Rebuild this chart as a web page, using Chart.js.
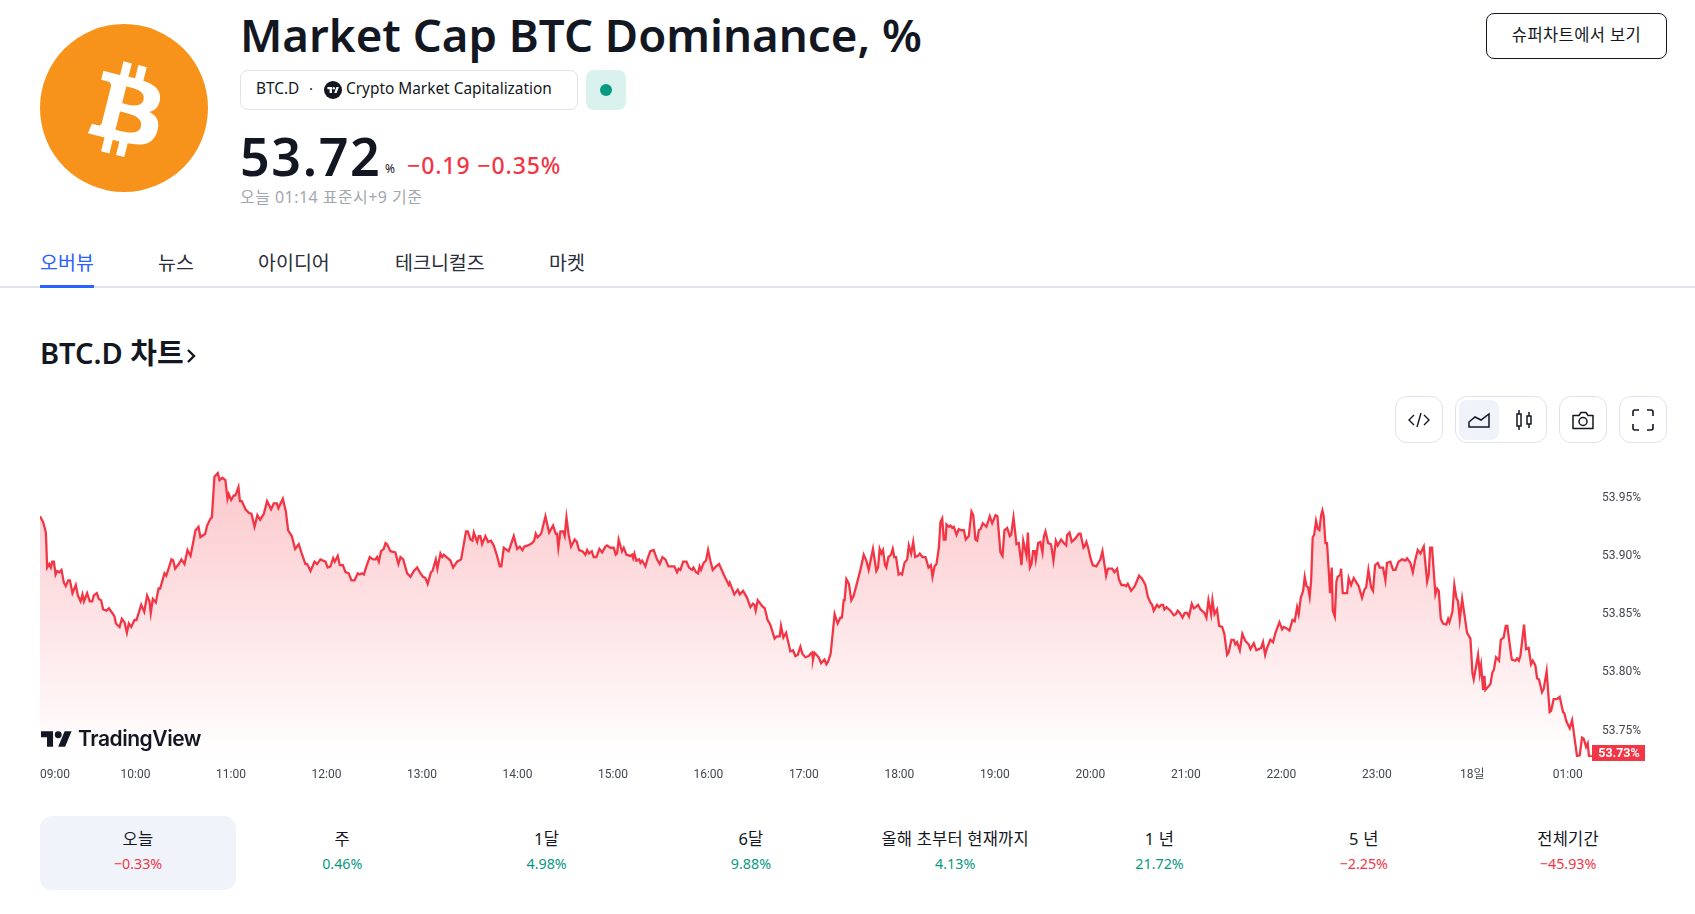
<!DOCTYPE html>
<html lang="ko">
<head>
  <meta charset="UTF-8" />
  <title>BTC.D</title>
  <script src="https://cdn.jsdelivr.net/npm/chart.js"></script>
  <style>
    html, body { margin: 0; padding: 0; background: #fff; }
    body { width: 1695px; height: 914px; position: relative; overflow: hidden; color: #131722;
      font-family: "Noto Sans", "Noto Sans CJK KR", sans-serif; }
    .abs { position: absolute; white-space: nowrap; }
    .tab { top: 250px; font-size: 19.5px; line-height: 26px; color: #2a2e39; }
    .tool { top: 396px; height: 45px; border: 1px solid #e0e3eb; border-radius: 12px; box-sizing: content-box; }
    .tool svg { position: absolute; }
    .period { top: 827px; width: 204px; text-align: center; font-size: 16.5px; line-height: 24px; letter-spacing: 0.2px; }
    .period b { display: block; font-weight: 400; font-size: 14.3px; line-height: 24px; margin-top: 1px; letter-spacing: 0; }
    .up { color: #089981; }
    .down { color: #f23645; }
    #chartBox { position: absolute; left: 0; top: 440px; width: 1695px; height: 360px; }
  </style>
</head>
<body>
  <svg class="abs" style="left:40px;top:24px" width="168" height="168" viewBox="0 0 64 64">
    <circle cx="32" cy="32" r="32" fill="#f7931a"/>
    <path fill="#fff" transform="translate(33 33) scale(.9) translate(-32 -32)" d="M46.11 27.441c.636-4.258-2.606-6.547-7.039-8.074l1.438-5.768-3.512-.875-1.4 5.616c-.922-.23-1.87-.447-2.812-.662l1.41-5.653-3.509-.875-1.439 5.766c-.764-.174-1.514-.346-2.242-.527l.004-.018-4.842-1.209-.934 3.75s2.605.597 2.55.634c1.422.355 1.68 1.296 1.636 2.042l-1.638 6.571c.098.025.225.061.365.117l-.37-.092-2.297 9.205c-.174.432-.615 1.08-1.609.834.035.051-2.552-.637-2.552-.637l-1.743 4.02 4.57 1.139c.85.213 1.683.436 2.502.646l-1.453 5.835 3.507.875 1.44-5.772c.957.26 1.887.5 2.797.726L27.504 50.8l3.511.875 1.453-5.823c5.987 1.133 10.49.676 12.383-4.738 1.527-4.36-.075-6.875-3.225-8.516 2.294-.531 4.022-2.04 4.483-5.157zM38.087 38.69c-1.086 4.36-8.426 2.004-10.807 1.412l1.928-7.729c2.38.594 10.011 1.77 8.88 6.317zm1.085-11.312c-.99 3.966-7.1 1.951-9.083 1.457l1.748-7.01c1.983.494 8.367 1.416 7.335 5.553z"/>
  </svg>

  <div class="abs" style="left:240px;top:2px;font-size:45.6px;line-height:64px;font-weight:600">Market Cap BTC Dominance, %</div>

  <div class="abs" style="left:240px;top:70px;width:338px;height:40px;border:1px solid #e0e3eb;border-radius:8px;box-sizing:border-box"></div>
  <div class="abs" style="left:256px;top:77px;font-size:15.4px;line-height:24px">BTC.D</div>
  <div class="abs" style="left:309px;top:76px;font-size:15px;line-height:24px">·</div>
  <svg class="abs" style="left:324px;top:81px" width="18" height="18" viewBox="0 0 18 18">
    <circle cx="9" cy="9" r="9" fill="#131722"/>
    <path fill="#fff" d="M8 12H5.6V8.2H3.4V6H8zM12.6 12h-2.4l2.2-6h2.4z"/><circle cx="9.8" cy="7.2" r="1.2" fill="#fff"/>
  </svg>
  <div class="abs" style="left:346px;top:77px;font-size:15.4px;line-height:24px">Crypto Market Capitalization</div>
  <div class="abs" style="left:586px;top:70px;width:40px;height:40px;border-radius:8px;background:#daf2ee"></div>
  <div class="abs" style="left:600px;top:84px;width:12px;height:12px;border-radius:50%;background:#089981"></div>

  <div class="abs" style="left:240px;top:120px;font-size:52px;line-height:72px;font-weight:600;letter-spacing:1.6px">53.72</div>
  <div class="abs" style="left:385px;top:160px;font-size:12px;line-height:18px">%</div>
  <div class="abs down" style="left:407px;top:148px;font-size:23px;line-height:34px;font-weight:500;letter-spacing:0.9px">−0.19 −0.35%</div>
  <div class="abs" style="left:240px;top:185px;font-size:16px;line-height:24px;letter-spacing:0.45px;color:#a3a6af">오늘 01:14 표준시+9 기준</div>

  <div class="abs tab" style="left:40px;color:#2962ff">오버뷰</div>
  <div class="abs tab" style="left:158px">뉴스</div>
  <div class="abs tab" style="left:258px">아이디어</div>
  <div class="abs tab" style="left:395px">테크니컬즈</div>
  <div class="abs tab" style="left:549px">마켓</div>
  <div class="abs" style="left:0;top:286px;width:1695px;height:2px;background:#e0e3eb"></div>
  <div class="abs" style="left:40px;top:285px;width:54px;height:3px;background:#2962ff"></div>

  <div class="abs" style="left:40px;top:333px;font-size:29px;line-height:40px;font-weight:600">BTC.D 차트</div>
  <svg class="abs" style="left:185px;top:348px" width="12" height="16" viewBox="0 0 12 16"><path d="M3 2l6 6-6 6" fill="none" stroke="#131722" stroke-width="2.4"/></svg>

  <div class="abs" style="left:1486px;top:13px;width:181px;height:46px;border:1px solid #131722;border-radius:8px;box-sizing:border-box;text-align:center;font-size:16.5px;line-height:41px;letter-spacing:0.4px">슈퍼차트에서 보기</div>

  <div class="abs tool" style="left:1395px;width:46px">
    <svg style="left:9px;top:9px" width="28" height="28" viewBox="0 0 28 28" fill="none" stroke="#131722" stroke-width="1.4"><path d="M9 9l-5 5 5 5M19 9l5 5-5 5M16 7l-4 14"/></svg>
  </div>
  <div class="abs tool" style="left:1455px;width:90px">
    <div class="abs" style="left:3px;top:3px;width:40px;height:40px;border-radius:8px;background:#f0f3fa"></div>
    <svg style="left:9px;top:9px" width="28" height="28" viewBox="0 0 28 28" fill="none" stroke="#131722" stroke-width="1.5"><path d="M4 21v-5l6-5 6 3 8-6v13z"/></svg>
    <svg style="left:54px;top:9px" width="28" height="28" viewBox="0 0 28 28" fill="none" stroke="#131722" stroke-width="1.5"><path d="M7 8h4v12H7zM9 4v4M9 20v4M17 10h4v8h-4zM19 6v4M19 18v4"/></svg>
  </div>
  <div class="abs tool" style="left:1559px;width:46px">
    <svg style="left:9px;top:9px" width="28" height="28" viewBox="0 0 28 28" fill="none" stroke="#131722" stroke-width="1.5"><path d="M4 9.5h6l2-3h5l2 3h5v13H4z" stroke-linejoin="round"/><circle cx="14" cy="15.5" r="4"/></svg>
  </div>
  <div class="abs tool" style="left:1619px;width:46px">
    <svg style="left:9px;top:9px" width="28" height="28" viewBox="0 0 28 28" fill="none" stroke="#131722" stroke-width="1.6"><path d="M4 10V6a2 2 0 0 1 2-2h4M18 4h4a2 2 0 0 1 2 2v4M24 18v4a2 2 0 0 1-2 2h-4M10 24H6a2 2 0 0 1-2-2v-4"/></svg>
  </div>

  <div id="chartBox"><canvas id="dominanceChart"></canvas></div>

  <svg class="abs" style="left:41px;top:731px" width="31" height="16" viewBox="0 4 36 18"><path fill="#131722" d="M14 22H7V11H0V4h14v18zM28 22h-8l7.5-18h8L28 22z"/><circle cx="20" cy="8" r="4" fill="#131722"/></svg>
  <div class="abs" style="left:78px;top:724px;font-family:Inter,sans-serif;font-size:21px;line-height:30px;font-weight:600;letter-spacing:-0.45px">TradingView</div>

  <div class="abs" style="left:40px;top:816px;width:196px;height:74px;border-radius:12px;background:#f0f3fa"></div>
  <div id="periods"></div>

  <script>
    // time axis: minutes after 09:00
    const tickMinutes = [0, 60, 120, 180, 240, 300, 360, 420, 480, 540, 600, 660, 720, 780, 840, 900, 960];
    const tickLabels = ['09:00', '10:00', '11:00', '12:00', '13:00', '14:00', '15:00', '16:00', '17:00', '18:00', '19:00', '20:00', '21:00', '22:00', '23:00', '18일', '01:00'];
    const priceTicks = [53.75, 53.80, 53.85, 53.90, 53.95];
    const lastPrice = 53.73;

    const periodNames = ['오늘', '주', '1달', '6달', '올해 초부터 현재까지', '1 년', '5 년', '전체기간'];
    const periodChanges = [-0.33, 0.46, 4.98, 9.88, 4.13, 21.72, -2.25, -45.93];

    const minutes = [
      0, 2, 3.7, 4.5, 5.8, 6.8, 7.7, 8.7, 9.8, 10.8,
      12.1, 13.5, 15, 16.2, 17.7, 18.8, 20.4, 22.5, 23.8, 25.5,
      26.7, 27.6, 29.6, 31.3, 32.8, 33.8, 35.7, 37, 38.4, 39.7,
      41.8, 43.3, 45.4, 46.8, 47.7, 50, 51.4, 53.1, 54.6, 55.8,
      57.3, 59.4, 60.6, 63.6, 65.5, 67.3, 68.8, 69.6, 70.9, 72.8,
      74.5, 75.5, 78.2, 79.3, 81, 82.6, 83.7, 84.9, 87.2, 88.9,
      90.8, 92.7, 94.6, 97.7, 99.6, 100.8, 103.8, 105, 107.1, 108,
      109.6, 111.7, 112.8, 114.5, 116.5, 117.8, 118.6, 120.1, 121.8, 122.8,
      124.7, 125.6, 126.8, 129.1, 131.2, 132.9, 134.8, 136.6, 138.3, 140.6,
      142.7, 145.2, 146.9, 148.8, 149.8, 152.6, 154.5, 155.9, 158.2, 160.3,
      162.6, 164.7, 166.8, 167.9, 170, 172.5, 174.1, 176.2, 179.4, 180.8,
      182.5, 184.2, 185.2, 187.1, 188.4, 190.3, 192, 194, 195.7, 197.6,
      199.7, 200.9, 202.2, 203.5, 205.1, 207.2, 209.3, 210.8, 211.8, 212.9,
      214.3, 216, 217.1, 218.1, 220.2, 223.3, 225.2, 226.5, 228.2, 230.7,
      232.8, 234.9, 237, 238.6, 240.7, 242.2, 243.6, 245.7, 246.6, 248.7,
      249.7, 251.6, 252.7, 253.7, 257.9, 259.6, 262.1, 264.6, 267.7, 268.8,
      270.5, 271.7, 272.6, 274.7, 275.7, 276.7, 277.8, 279.9, 281.6, 283.4,
      285.1, 287.2, 288.9, 289.9, 291.4, 294.5, 297.7, 299.8, 301.5, 303.1,
      304.4, 306.7, 309.2, 310.5, 311.5, 312.6, 314.9, 317.6, 319.9, 322.4,
      324.1, 324.9, 325.7, 327, 328.7, 329.7, 330.8, 332.2, 333.7, 336,
      337.3, 338.7, 340.8, 342.7, 343.8, 345, 346.7, 347.9, 349.6, 351.5,
      353.2, 355.3, 356.3, 358.4, 360.5, 361.8, 362.6, 363.6, 365.7, 366.8,
      368.5, 371, 372, 372.7, 373.5, 374.7, 376.4, 377.3, 378.3, 380.4,
      381.9, 383.5, 385.6, 387.7, 389.4, 391.1, 393, 394.8, 397.2, 398.6,
      400.3, 401.3, 402.4, 404.1, 406.2, 407.8, 409.7, 410.6, 412.2, 413.5,
      414.5, 415.4, 417, 418.5, 419.8, 421.2, 422.7, 424.8, 426.7, 429.6,
      432.8, 433.4, 436.3, 438.4, 439.7, 441.8, 444.3, 446.4, 448, 448.9,
      449.7, 451, 453.7, 455.4, 457.2, 458.9, 461.6, 463.1, 464.8, 465.6,
      467.1, 468.8, 471.5, 473.2, 474.6, 476.1, 477.8, 479, 480.9, 483,
      484.1, 485.1, 485.7, 486.6, 489.3, 490.8, 492.9, 494.1, 495.1, 496.8,
      499.3, 501.2, 502.9, 503.9, 505, 505.6, 506.7, 508.3, 509.8, 511.3,
      513.8, 515.5, 517.6, 519.2, 520.7, 523.4, 525.5, 526.6, 527.6, 528.7,
      529.7, 531, 531.8, 533.1, 534.7, 535.8, 536.8, 537.9, 539.5, 540.7,
      541.7, 543.2, 544.9, 545.9, 547.4, 548.7, 549.9, 551.6, 552.8, 554.5,
      556.4, 558.3, 559.8, 560.8, 562.1, 563.3, 564.8, 565.8, 566.9, 567.9,
      569, 569.6, 571.1, 572.1, 573.2, 574.2, 575.9, 577.3, 578.8, 580.5,
      581.7, 583.6, 585.3, 586.4, 587.8, 588.9, 589.9, 591, 592.4, 594.7,
      596.8, 598.3, 600.4, 601.6, 603.5, 604.8, 606, 607.7, 609.4, 610.2,
      611.7, 613.6, 615, 616.7, 617.8, 619.9, 620.7, 622, 623, 624,
      625.1, 625.7, 627.2, 628.6, 629.9, 630.7, 631.8, 633.5, 635.3, 636.8,
      638.3, 639.5, 641.6, 643.3, 644.8, 645.4, 646.9, 648.3, 650.6, 652.7,
      653.8, 655.7, 656.3, 657.5, 658.6, 660.1, 661.5, 663.8, 666.3, 667.6,
      669.9, 671, 673.7, 675.1, 676.8, 677.9, 679.5, 681.4, 682.5, 683.5,
      685.6, 687.9, 690.6, 692.7, 694.6, 696.1, 697.7, 698.8, 699.8, 701.9,
      703.2, 704.5, 705.7, 706.5, 707.8, 710.3, 712.4, 713.7, 714.9, 716.2,
      717.9, 719.3, 720.8, 722, 723.7, 725, 726.2, 727.7, 729.2, 731.7,
      732.9, 734.2, 735.9, 736.7, 738, 739.6, 740.9, 742.8, 744.2, 745.9,
      746.9, 748.6, 750.1, 751.1, 752.2, 753.9, 755.5, 757.4, 759.5, 760.6,
      762.7, 764.3, 765.8, 767.3, 768.5, 769.8, 771, 773.1, 774.8, 776.3,
      778.8, 780.5, 781.5, 783.2, 785.1, 787, 788.4, 789.9, 790.9, 792.2,
      793.7, 794.7, 795.8, 796.8, 797.8, 798.7, 799.7, 800.6, 801.8, 802.9,
      803.9, 805, 805.8, 806.6, 807.7, 808.7, 809.8, 810.6, 811.7, 812.3,
      813.6, 814.6, 815.4, 817.1, 817.5, 818.6, 821.3, 822.3, 823.8, 825.5,
      827.2, 828.6, 830.7, 832.2, 833.3, 834.7, 836.4, 837.6, 838.9, 840.6,
      841.8, 843.9, 845.4, 846.4, 848.5, 850.2, 851.7, 853.6, 855.9, 858,
      859, 861.1, 862.6, 864.2, 865.7, 867.4, 869.5, 871.6, 872.6, 873.5,
      874.7, 876.8, 877.9, 878.9, 880.2, 881.6, 883.7, 884.8, 885.6, 887.5,
      888.7, 890, 891, 892.1, 893.6, 895, 896.7, 898.8, 900.1, 900.9,
      903.6, 904.7, 905.5, 906.8, 907.6, 908.2, 911.4, 912.6, 913.5, 914.9,
      916.8, 917.9, 919.7, 921, 922, 923.3, 924.8, 927.1, 928.1, 929.2,
      930.2, 932.5, 933.8, 935.4, 936.9, 938, 939.6, 940.7, 941.9, 943.8,
      944.9, 946.7, 948.6, 949.5, 951.1, 953.2, 954.9, 957, 957.8, 959.1,
      961.2, 962.7, 965.8, 967.5, 968.9, 970, 971.5, 972.5, 973.3, 975.2
    ];

    const dominance = [
      53.934, 53.929, 53.920, 53.890, 53.893, 53.890, 53.895, 53.895, 53.884, 53.887,
      53.886, 53.888, 53.877, 53.874, 53.879, 53.879, 53.868, 53.875, 53.866, 53.861,
      53.867, 53.861, 53.868, 53.861, 53.861, 53.866, 53.868, 53.863, 53.862, 53.854,
      53.853, 53.855, 53.851, 53.848, 53.842, 53.839, 53.846, 53.843, 53.834, 53.842,
      53.839, 53.845, 53.845, 53.858, 53.852, 53.866, 53.861, 53.851, 53.863, 53.860,
      53.872, 53.872, 53.885, 53.883, 53.890, 53.897, 53.896, 53.889, 53.893, 53.897,
      53.893, 53.905, 53.900, 53.922, 53.925, 53.916, 53.919, 53.926, 53.932, 53.933,
      53.968, 53.971, 53.965, 53.967, 53.965, 53.949, 53.953, 53.948, 53.952, 53.952,
      53.959, 53.947, 53.947, 53.940, 53.937, 53.936, 53.925, 53.935, 53.931, 53.936,
      53.947, 53.940, 53.945, 53.945, 53.941, 53.949, 53.938, 53.922, 53.917, 53.906,
      53.910, 53.901, 53.893, 53.893, 53.887, 53.895, 53.893, 53.897, 53.895, 53.890,
      53.891, 53.898, 53.895, 53.900, 53.892, 53.892, 53.886, 53.885, 53.879, 53.879,
      53.885, 53.884, 53.885, 53.884, 53.891, 53.899, 53.897, 53.897, 53.899, 53.895,
      53.904, 53.906, 53.911, 53.910, 53.904, 53.903, 53.893, 53.899, 53.897, 53.885,
      53.882, 53.887, 53.890, 53.886, 53.882, 53.881, 53.876, 53.886, 53.887, 53.897,
      53.889, 53.902, 53.899, 53.901, 53.896, 53.890, 53.895, 53.897, 53.921, 53.921,
      53.914, 53.913, 53.920, 53.912, 53.917, 53.917, 53.910, 53.917, 53.912, 53.913,
      53.909, 53.900, 53.891, 53.891, 53.907, 53.904, 53.917, 53.906, 53.908, 53.905,
      53.908, 53.909, 53.911, 53.913, 53.919, 53.916, 53.919, 53.934, 53.920, 53.926,
      53.919, 53.919, 53.907, 53.921, 53.921, 53.917, 53.933, 53.918, 53.908, 53.914,
      53.912, 53.905, 53.904, 53.901, 53.905, 53.902, 53.904, 53.899, 53.899, 53.906,
      53.903, 53.908, 53.909, 53.907, 53.907, 53.901, 53.902, 53.914, 53.904, 53.907,
      53.901, 53.900, 53.901, 53.898, 53.902, 53.896, 53.897, 53.894, 53.896, 53.891,
      53.898, 53.904, 53.905, 53.897, 53.893, 53.899, 53.897, 53.891, 53.891, 53.891,
      53.886, 53.889, 53.888, 53.895, 53.895, 53.890, 53.888, 53.890, 53.886, 53.885,
      53.891, 53.888, 53.894, 53.896, 53.905, 53.896, 53.888, 53.891, 53.893, 53.884,
      53.875, 53.877, 53.867, 53.871, 53.867, 53.870, 53.864, 53.856, 53.859, 53.858,
      53.853, 53.862, 53.857, 53.855, 53.845, 53.841, 53.829, 53.831, 53.831, 53.840,
      53.830, 53.834, 53.818, 53.819, 53.814, 53.815, 53.822, 53.816, 53.813, 53.814,
      53.816, 53.817, 53.811, 53.817, 53.813, 53.808, 53.811, 53.807, 53.809, 53.816,
      53.850, 53.842, 53.847, 53.847, 53.862, 53.862, 53.880, 53.876, 53.862, 53.866,
      53.879, 53.888, 53.901, 53.896, 53.888, 53.906, 53.887, 53.890, 53.906, 53.902,
      53.905, 53.892, 53.890, 53.899, 53.901, 53.906, 53.899, 53.899, 53.884, 53.885,
      53.884, 53.894, 53.897, 53.909, 53.902, 53.912, 53.899, 53.900, 53.902, 53.899,
      53.899, 53.890, 53.892, 53.882, 53.891, 53.893, 53.907, 53.929, 53.932, 53.914,
      53.914, 53.927, 53.925, 53.926, 53.924, 53.925, 53.918, 53.923, 53.922, 53.922,
      53.914, 53.917, 53.938, 53.935, 53.914, 53.913, 53.922, 53.923, 53.928, 53.925,
      53.934, 53.928, 53.935, 53.934, 53.903, 53.900, 53.922, 53.924, 53.917, 53.918,
      53.933, 53.910, 53.911, 53.892, 53.913, 53.900, 53.920, 53.890, 53.893, 53.904,
      53.904, 53.897, 53.911, 53.912, 53.903, 53.916, 53.921, 53.911, 53.910, 53.896,
      53.913, 53.909, 53.914, 53.911, 53.909, 53.918, 53.920, 53.912, 53.915, 53.919,
      53.919, 53.907, 53.908, 53.912, 53.907, 53.898, 53.892, 53.891, 53.897, 53.904,
      53.883, 53.889, 53.889, 53.886, 53.889, 53.880, 53.875, 53.875, 53.874, 53.876,
      53.870, 53.874, 53.883, 53.880, 53.875, 53.865, 53.860, 53.858, 53.853, 53.858,
      53.856, 53.858, 53.858, 53.854, 53.856, 53.853, 53.849, 53.850, 53.853, 53.851,
      53.847, 53.851, 53.851, 53.848, 53.859, 53.855, 53.856, 53.858, 53.854, 53.851,
      53.847, 53.862, 53.850, 53.862, 53.850, 53.854, 53.840, 53.839, 53.833, 53.815,
      53.817, 53.828, 53.828, 53.824, 53.826, 53.819, 53.833, 53.827, 53.824, 53.820,
      53.825, 53.819, 53.820, 53.821, 53.826, 53.815, 53.821, 53.828, 53.826, 53.834,
      53.843, 53.837, 53.839, 53.838, 53.836, 53.845, 53.844, 53.856, 53.850, 53.864,
      53.870, 53.882, 53.874, 53.873, 53.865, 53.878, 53.916, 53.918, 53.930, 53.923,
      53.922, 53.935, 53.939, 53.934, 53.911, 53.911, 53.887, 53.868, 53.890, 53.853,
      53.848, 53.878, 53.882, 53.884, 53.889, 53.868, 53.868, 53.881, 53.875, 53.881,
      53.877, 53.874, 53.864, 53.871, 53.873, 53.888, 53.873, 53.870, 53.892, 53.894,
      53.890, 53.890, 53.879, 53.894, 53.895, 53.888, 53.888, 53.895, 53.897, 53.896,
      53.898, 53.894, 53.886, 53.897, 53.905, 53.902, 53.908, 53.878, 53.884, 53.907,
      53.907, 53.867, 53.872, 53.870, 53.846, 53.842, 53.841, 53.846, 53.843, 53.852,
      53.875, 53.864, 53.861, 53.845, 53.863, 53.850, 53.834, 53.829, 53.799, 53.794,
      53.815, 53.799, 53.806, 53.785, 53.797, 53.785, 53.790, 53.800, 53.802, 53.813,
      53.810, 53.828, 53.830, 53.840, 53.840, 53.826, 53.811, 53.810, 53.812, 53.810,
      53.814, 53.841, 53.820, 53.821, 53.807, 53.810, 53.806, 53.795, 53.794, 53.783,
      53.786, 53.801, 53.766, 53.767, 53.777, 53.777, 53.779, 53.766, 53.765, 53.758,
      53.752, 53.759, 53.728, 53.729, 53.744, 53.743, 53.736, 53.739, 53.728, 53.728
    ];

    // period row under the chart
    const periodsEl = document.getElementById('periods');
    periodNames.forEach((name, i) => {
      const v = periodChanges[i];
      const el = document.createElement('div');
      el.className = 'abs period';
      el.style.left = (36 + i * 204.3) + 'px';
      el.innerHTML = name + '<b class="' + (v < 0 ? 'down' : 'up') + '">' +
        (v < 0 ? '−' : '') + Math.abs(v).toFixed(2) + '%</b>';
      periodsEl.appendChild(el);
    });

    const uiFont = '"Roboto", "Noto Sans CJK KR", sans-serif';

    // red price tag at the right edge
    const priceTag = {
      id: 'priceTag',
      afterDraw(chart) {
        const { ctx, chartArea } = chart;
        const y = chart.scales.y.getPixelForValue(lastPrice) - 1;
        ctx.save();
        ctx.fillStyle = '#f23645';
        ctx.fillRect(chartArea.right, y - 8, 53, 16);
        ctx.fillStyle = '#fff';
        ctx.font = '700 12.5px ' + uiFont;
        ctx.textAlign = 'center';
        ctx.textBaseline = 'middle';
        ctx.fillText(lastPrice.toFixed(2) + '%', chartArea.right + 27, y + 0.5);
        ctx.restore();
      }
    };

    new Chart(document.getElementById('dominanceChart'), {
      type: 'line',
      data: {
        datasets: [{
          data: minutes.map((m, i) => ({ x: m, y: dominance[i] })),
          borderColor: '#f23645',
          borderWidth: 2.3,
          pointRadius: 0,
          tension: 0,
          fill: 'start',
          backgroundColor(context) {
            const area = context.chart.chartArea;
            if (!area) return 'rgba(242,54,69,0.2)';
            const g = context.chart.ctx.createLinearGradient(0, area.top + 15, 0, area.bottom);
            g.addColorStop(0, 'rgba(242,54,69,0.28)');
            g.addColorStop(1, 'rgba(242,54,69,0)');
            return g;
          }
        }]
      },
      options: {
        responsive: true,
        maintainAspectRatio: false,
        animation: false,
        layout: { padding: { left: 40, right: 50, top: 15, bottom: 0 } },
        plugins: { legend: { display: false }, tooltip: { enabled: false } },
        scales: {
          x: {
            type: 'linear',
            min: 0,
            max: minutes[minutes.length - 1],
            border: { display: false },
            grid: { display: false, drawTicks: false },
            afterBuildTicks(axis) {
              axis.ticks = tickMinutes.concat(axis.max).map(v => ({ value: v }));
            },
            afterFit(axis) { axis.height = 43; },
            ticks: {
              autoSkip: false,
              maxRotation: 0,
              align: 'inner',
              padding: 11,
              color: '#434651',
              font: { family: uiFont, size: 12 },
              callback: (v, i) => tickLabels[i] || ''
            }
          },
          y: {
            position: 'right',
            min: 53.7274,
            max: 53.9847,
            border: { display: false },
            grid: { display: false, drawTicks: false },
            afterBuildTicks(axis) {
              axis.ticks = priceTicks.map(v => ({ value: v }));
            },
            afterFit(axis) { axis.width = 53; },
            ticks: {
              padding: 10,
              color: '#434651',
              font: { family: uiFont, size: 12 },
              callback: v => v.toFixed(2) + '%'
            }
          }
        }
      },
      plugins: [priceTag]
    });
  </script>
</body>
</html>
